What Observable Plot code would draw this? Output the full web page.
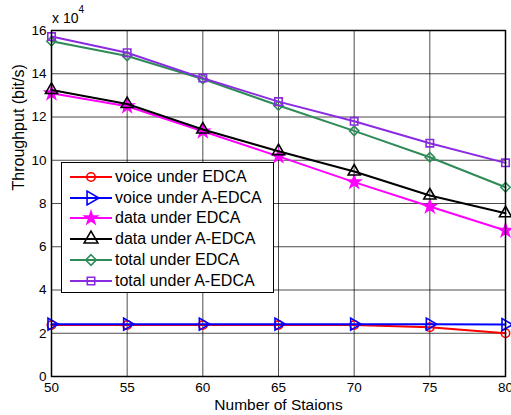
<!DOCTYPE html>
<html>
<head>
<meta charset="utf-8">
<script src="https://cdn.jsdelivr.net/npm/d3@7"></script>
<script src="https://cdn.jsdelivr.net/npm/@observablehq/plot@0.6"></script>
<style>
  body { margin: 0; background: #fff; font-family: "Liberation Sans", Arial, sans-serif; }
  #wrap { position: relative; width: 511px; height: 415px; overflow: hidden; }
  #exp { position: absolute; left: 52px; top: 10px; font-size: 14px; line-height: 16px; color: #000; }
  #exp sup { font-size: 10px; position: relative; top: -5px; vertical-align: top; line-height: 10px; }
  #legend { position: absolute; left: 61px; top: 162px; width: 213px; height: 131px;
            background: #fff; border: 1.3px solid #000; box-sizing: border-box; }
  .row { position: absolute; left: 0; height: 20px; display: flex; align-items: center; }
  .row svg { display: block; }
  .row span { font-size: 16px; color: #000; margin-left: 2px; white-space: nowrap; }
</style>
</head>
<body>
<div id="wrap"></div>
<script>
const stations = [50, 55, 60, 65, 70, 75, 80];
const voiceEDCA  = [2.38, 2.38, 2.38, 2.38, 2.38, 2.28, 2.0];
const voiceAEDCA = [2.42, 2.42, 2.42, 2.42, 2.42, 2.42, 2.4];
const dataEDCA   = [13.1, 12.5, 11.34, 10.18, 8.99, 7.86, 6.75];
const dataAEDCA  = [13.25, 12.6, 11.42, 10.42, 9.48, 8.37, 7.55];
const totalEDCA  = [15.5, 14.82, 13.76, 12.53, 11.36, 10.14, 8.75];
const totalAEDCA = [15.72, 14.97, 13.8, 12.71, 11.8, 10.79, 9.88];
const seriesNames = ["voice under EDCA", "voice under A-EDCA", "data under EDCA",
                     "data under A-EDCA", "total under EDCA", "total under A-EDCA"];
const seriesValues = [voiceEDCA, voiceAEDCA, dataEDCA, dataAEDCA, totalEDCA, totalAEDCA];
const colors = ["#ff0000", "#0000ff", "#ff00ff", "#000000", "#2e8b57", "#8a2be2"];
const symbols = ["circle", "triangle", "star", "triangle", "diamond2", "square"];
const rotations = [0, 90, 0, 0, 0, 0];
const fills = ["none", "none", "#ff00ff", "none", "none", "none"];
const radii = [4.2, 4.5, 4, 4.5, 4.2, 4.2];
const xTicks = [50, 55, 60, 65, 70, 75, 80];
const yTicks = [0, 2, 4, 6, 8, 10, 12, 14, 16];

const font = '"Liberation Sans", Arial, sans-serif';
const marks = [
  Plot.gridX(xTicks, {stroke: "#000", strokeOpacity: 0.7, strokeWidth: 1}),
  Plot.gridY(yTicks, {stroke: "#000", strokeOpacity: 0.7, strokeWidth: 1}),
];
seriesNames.forEach((name, i) => {
  const rows = stations.map((s, j) => ({x: s, y: seriesValues[i][j]}));
  marks.push(Plot.line(rows, {x: "x", y: "y", stroke: colors[i], strokeWidth: 2}));
  marks.push(Plot.dot(rows, {x: "x", y: "y", symbol: symbols[i], stroke: colors[i],
    fill: fills[i], strokeWidth: 1.6, r: radii[i], rotate: rotations[i]}));
});
marks.push(Plot.frame({stroke: "#000", strokeWidth: 1.5}));
marks.push(Plot.axisX(xTicks, {tickSize: 0, tickPadding: 6, fontSize: 13.5, label: null}));
marks.push(Plot.axisY(yTicks, {tickSize: 0, tickPadding: 5, fontSize: 13.5, label: null}));
marks.push(Plot.text(["Number of Staions"], {frameAnchor: "bottom", dy: 33, fontSize: 15.5, fill: "#000"}));
marks.push(Plot.text(["Throughput (bit/s)"], {frameAnchor: "left", dx: -33, dy: -13, rotate: -90, fontSize: 16, fill: "#000"}));

const chart = Plot.plot({
  width: 511, height: 415,
  marginLeft: 51, marginRight: 6, marginTop: 30, marginBottom: 39,
  style: {fontFamily: font, fontSize: "14px", color: "#000", background: "#fff", overflow: "visible"},
  x: {domain: [50, 80]},
  y: {domain: [0, 16]},
  marks
});
const wrap = document.getElementById("wrap");
wrap.appendChild(chart);

const exp = document.createElement("div");
exp.id = "exp";
exp.innerHTML = "x 10<sup>4</sup>";
wrap.appendChild(exp);

const legend = document.createElement("div");
legend.id = "legend";
const paths = {
  circle: d3.symbol(d3.symbolCircle, Math.PI * 4.2 * 4.2)(),
  triangle: d3.symbol(d3.symbolTriangle, 4.5 * 4.5 * 4)(),
  star: d3.symbol(d3.symbolStar, 4 * 4 * 3)(),
  diamond2: d3.symbol(d3.symbolDiamond2, 4.2 * 4.2 * 4)(),
  square: d3.symbol(d3.symbolSquare2, 4.2 * 4.2 * 4)()
};
seriesNames.forEach((name, i) => {
  const row = document.createElement("div");
  row.className = "row";
  row.style.top = (4 + i * 20.7) + "px";
  row.style.left = "7px";
  row.innerHTML = `<svg width="44" height="20"><line x1="1" x2="43" y1="10" y2="10" stroke="${colors[i]}" stroke-width="2"/>` +
    `<path d="${paths[symbols[i]]}" transform="translate(22,10) rotate(${rotations[i]})" stroke="${colors[i]}" fill="${fills[i]}" stroke-width="1.6"/></svg>` +
    `<span>${name}</span>`;
  legend.appendChild(row);
});
wrap.appendChild(legend);
</script>
</body>
</html>
